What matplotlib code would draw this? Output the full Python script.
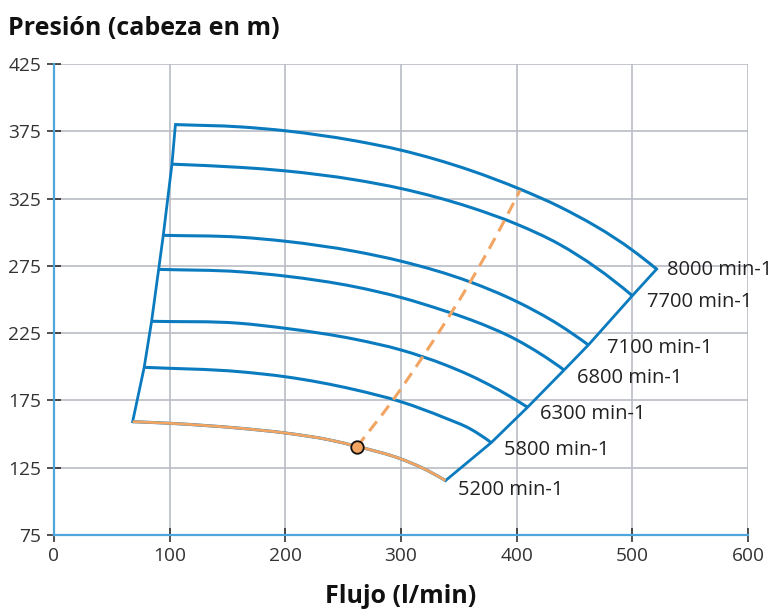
import matplotlib
matplotlib.use("Agg")
import matplotlib.pyplot as plt
from matplotlib.path import Path
from matplotlib.patches import PathPatch

plt.rcParams['font.family'] = ['Open Sans', 'DejaVu Sans']

# ---- data ----
speeds = ["8000 min-1", "7700 min-1", "7100 min-1", "6800 min-1",
          "6300 min-1", "5800 min-1", "5200 min-1"]

q_8000 = [105, 161, 200, 260, 300, 360, 403, 437, 500, 521]
h_8000 = [380, 378.3, 375.4, 368, 361, 346, 332, 319, 286.7, 272.6]

q_7700 = [102, 161, 200, 260, 300, 360, 400, 437, 500]
h_7700 = [350.6, 348.2, 345.6, 339, 332.5, 318.5, 306, 291, 252.8]

q_7100 = [94.5, 161, 200, 260, 300, 360, 400, 437, 462]
h_7100 = [297.7, 296.3, 293.3, 285.8, 278.5, 263, 248.5, 231, 216.2]

q_6800 = [90.5, 161, 200, 260, 300, 338, 360, 400, 441]
h_6800 = [272.4, 270.6, 267.4, 259.5, 251.5, 241.5, 235, 220, 197.6]

q_6300 = [84.4, 161, 200, 260, 300, 338, 360, 400, 409.4]
h_6300 = [233.8, 232.3, 228.6, 220.5, 212.5, 201.5, 193.5, 175, 169.9]

q_5800 = [78, 161, 200, 260, 300, 338, 360, 378]
h_5800 = [199.6, 196.3, 192.6, 183, 174, 162, 153.8, 143.6]

q_5200 = [68, 100, 161, 200, 239, 262, 300, 318, 338.5]
h_5200 = [159.2, 158, 154.3, 150.8, 145.5, 140.8, 131.5, 125, 115.4]

# system curve (dashed) and operating point
q_system = [262, 292, 325, 360, 403]
h_system = [140.6, 174, 215.5, 263.2, 331.3]
q_point = [261.6]
h_point = [140.6]

x_ticks = [0, 100, 200, 300, 400, 500, 600]
y_ticks = [75, 125, 175, 225, 275, 325, 375, 425]

curves_q = [q_8000, q_7700, q_7100, q_6800, q_6300, q_5800, q_5200]
curves_h = [h_8000, h_7700, h_7100, h_6800, h_6300, h_5800, h_5200]

# ---- style ----
BLUE = '#0B7BBF'
ORANGE = '#F2A462'
label_dq = [9, 13, 16, 11, 11, 11, 10.5]
label_dh = [-1, -5, -2.5, -6, -5, -5.4, -7]


def smooth_path(xs, ys):
    """Cubic Bezier path through the given data points (smooth line style)."""
    n = len(xs)
    s = [(ys[i + 1] - ys[i]) / (xs[i + 1] - xs[i]) for i in range(n - 1)]
    m = [0.0] * n
    for i in range(1, n - 1):
        h0 = xs[i] - xs[i - 1]
        h1 = xs[i + 1] - xs[i]
        m[i] = (h1 * s[i - 1] + h0 * s[i]) / (h0 + h1)
    m[0] = s[0]
    m[-1] = 2 * s[-1] - m[-2]
    verts = [(xs[0], ys[0])]
    codes = [Path.MOVETO]
    for i in range(n - 1):
        h = xs[i + 1] - xs[i]
        verts += [(xs[i] + h / 3, ys[i] + m[i] * h / 3),
                  (xs[i + 1] - h / 3, ys[i + 1] - m[i + 1] * h / 3),
                  (xs[i + 1], ys[i + 1])]
        codes += [Path.CURVE4] * 3
    return Path(verts, codes)


fig = plt.figure(figsize=(7.72, 6.10), dpi=100)
ax = fig.add_axes([0.0699, 0.123, 0.899, 0.772])

ax.set_xlim(0, 600)
ax.set_ylim(75, 425)
ax.set_xticks(x_ticks)
ax.set_yticks(y_ticks)
ax.grid(True, color='#B9BDC5', linewidth=1.2, zorder=0)
ax.set_axisbelow(True)

for s in ['top', 'right']:
    ax.spines[s].set_visible(False)
for s in ['left', 'bottom']:
    ax.spines[s].set_color('#4FA6DC')
    ax.spines[s].set_linewidth(1.6)

ax.tick_params(axis='both', direction='inout', length=10, width=1.1,
               color='#222222', labelsize=13.8, labelcolor='#333333', pad=4)

# left and right boundary of the map
left_q = [q[0] for q in curves_q]
left_h = [h[0] for h in curves_h]
right_q = [q[-1] for q in curves_q]
right_h = [h[-1] for h in curves_h]
ax.plot(left_q, left_h, color=BLUE, linewidth=2.0, zorder=3,
        solid_joinstyle='miter')
ax.plot(right_q, right_h, color=BLUE, linewidth=2.0, zorder=3,
        solid_joinstyle='miter')

for i, (q, h) in enumerate(zip(curves_q, curves_h)):
    ax.add_patch(PathPatch(smooth_path(q, h), fill=False, edgecolor=BLUE,
                           linewidth=2.2, zorder=3))
    if i == len(curves_q) - 1:
        ax.add_patch(PathPatch(smooth_path(q, h), fill=False, edgecolor=ORANGE,
                               linewidth=2.0, zorder=4))
    ax.text(q[-1] + label_dq[i], h[-1] + label_dh[i], speeds[i],
            fontsize=14.5, color='#222222', ha='left', va='center', zorder=5)

ax.add_patch(PathPatch(smooth_path(q_system, h_system), fill=False,
                       edgecolor=ORANGE, linewidth=2.2, linestyle=(0, (4, 2.5)),
                       zorder=4))
ax.plot(q_point, h_point, 'o', markersize=9, markerfacecolor=ORANGE,
        markeredgecolor='#111111', markeredgewidth=1.3, zorder=6)

fig.text(0.010, 0.953, 'Presión (cabeza en m)', fontsize=18, fontweight='bold',
         ha='left', va='center', color='#111111')
ax.set_xlabel('Flujo (l/min)', fontsize=18, fontweight='bold', color='#111111',
              labelpad=13)

fig.savefig('out.png', dpi=100)
